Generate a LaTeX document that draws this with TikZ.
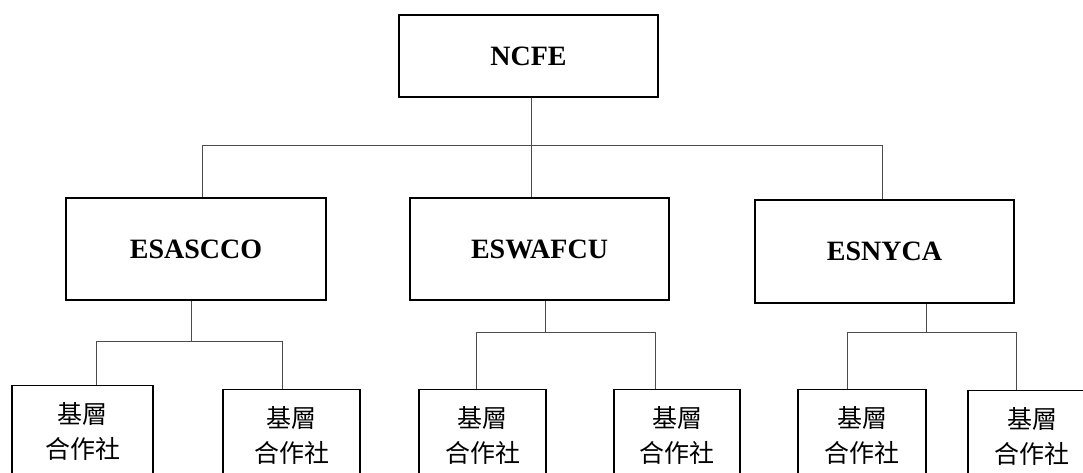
\documentclass[tikz,border=0pt]{standalone}
\usepackage{fontspec}
\setmainfont{Liberation Serif}
\newfontfamily\cjk{Noto Sans CJK TC}
\usepackage{tikz}
\usetikzlibrary{positioning}

\tikzset{
  org/.style={draw, line width=1.3pt, inner sep=0pt, font=\fontsize{28}{32}\selectfont\bfseries},
  coop/.style={draw, line width=1.3pt, inner sep=0pt, anchor=north, minimum height=92pt,
    align=center, font=\cjk\fontsize{25}{35}\selectfont},
  link/.style={line width=0.8pt, black!70}
}

\begin{document}
\begin{tikzpicture}[x=1pt, y=-1pt]
            \useasboundingbox (0,0) rectangle (1083,472);

            % the top box and the three unions
            \node[org, minimum width=259pt, minimum height=82pt] (ncfe) at (528.5,56) {NCFE};
            \node[org, minimum width=260pt, minimum height=102pt] (esascco) at (196,249) {ESASCCO};
            \node[org, minimum width=259pt, minimum height=102pt] (eswafcu) at (539.5,249) {ESWAFCU};
            \node[org, minimum width=259pt, minimum height=103pt] (esnyca) at (884.5,251.5) {ESNYCA};

            % the local cooperatives
            \foreach \n/\x/\y/\w in {1/82.5/385/141, 2/291.5/389/137, 3/482.5/389/127,
                                     4/677/389/126, 5/862/389/128, 6/1032/390/128}
              \node[coop, minimum width=\w pt] (coop\n) at (\x,\y) {基層\\合作社};

            % the bus under NCFE
            \coordinate (top0) at (531,145);
            \coordinate (topl) at (202.5,145);
            \coordinate (topr) at (882,145);
            \draw[link] (ncfe.south -| top0) -- (top0 |- eswafcu.north);
            \draw[link] (topl |- esascco.north) -- (topl) -- (topr) -- (topr |- esnyca.north);

            % the buses under the unions
            \coordinate (a0) at (191,341);
            \coordinate (al) at (96,341);
            \coordinate (ar) at (282,341);
            \draw[link] (esascco.south -| a0) -- (a0);
            \draw[link] (al |- coop1.north) -- (al) -- (ar) -- (ar |- coop2.north);

            \coordinate (b0) at (545.5,332);
            \coordinate (bl) at (476,332);
            \coordinate (br) at (655,332);
            \draw[link] (eswafcu.south -| b0) -- (b0);
            \draw[link] (bl |- coop3.north) -- (bl) -- (br) -- (br |- coop4.north);

            \coordinate (c0) at (926,332);
            \coordinate (cl) at (847,332);
            \coordinate (cr) at (1016,332);
            \draw[link] (esnyca.south -| c0) -- (c0);
            \draw[link] (cl |- coop5.north) -- (cl) -- (cr) -- (cr |- coop6.north);
\end{tikzpicture}
\end{document}
